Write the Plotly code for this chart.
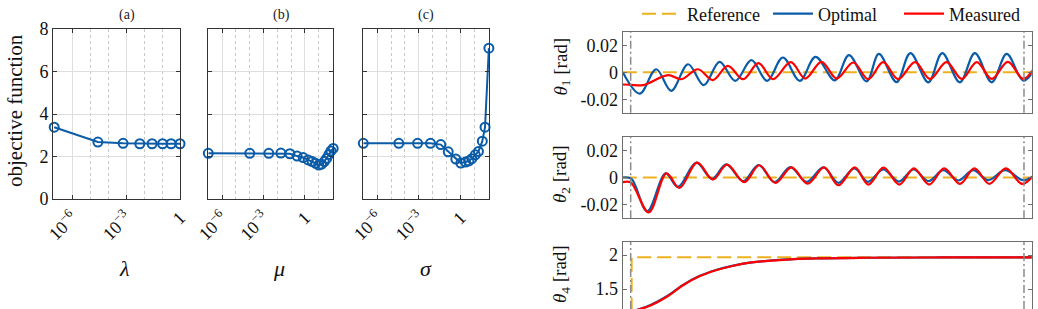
import plotly.graph_objects as go

# ---------------- left panels: objective function vs parameter ----------------
lam = [1e-7, 2.7e-5, 6.8e-4, 5.8e-3, 2.8e-2, 1.07e-1, 3.2e-1, 1.0]
obj_lam = [3.38, 2.68, 2.62, 2.60, 2.60, 2.60, 2.60, 2.60]

mu = [1e-7, 1.0e-4, 2.4e-3, 1.8e-2, 8.1e-2, 0.27, 0.74, 1.7, 3.3, 5.9,
      10, 16, 25, 37, 54, 76, 110]
obj_mu = [2.15, 2.15, 2.15, 2.16, 2.13, 2.02, 1.95, 1.84, 1.76, 1.68,
          1.60, 1.64, 1.76, 1.91, 2.10, 2.26, 2.38]

sigma = [1e-7, 3.6e-5, 8.1e-4, 6.9e-3, 3.8e-2, 0.13, 0.46, 1.05, 2.3, 4.0,
         6.5, 11.5, 19.5, 37, 58, 110]
obj_sigma = [2.62, 2.62, 2.62, 2.62, 2.56, 2.22, 1.88, 1.69, 1.74, 1.79,
             1.90, 2.08, 2.24, 2.72, 3.38, 7.10]

log_tickvals = [1e-6, 1e-3, 1]
log_ticktext = ["10<sup>\u22126</sup>", "10<sup>\u22123</sup>", "1"]
obj_ticks = [0, 2, 4, 6, 8]
panel_titles = ["(a)", "(b)", "(c)"]
param_names = ["<i>\u03bb</i>", "<i>\u03bc</i>", "<i>\u03c3</i>"]

# ---------------- right panels: joint trajectories ----------------
# theta1 [rad]
t1_opt = [-0.2, 0.23, 0.65, 1.03, 1.46, 1.86, 2.26, 2.66, 3.07, 3.47, 3.87, 4.30, 4.70,
          5.19, 5.55, 6.00, 6.31, 6.76, 7.11, 7.57, 7.92, 8.37, 8.75, 9.18, 9.56, 9.98, 10.26]
th1_opt = [0.0, -0.0158, 0.0022, -0.0138, 0.0059, -0.0096, 0.0077, -0.0064, 0.0089, -0.0064,
           0.0109, -0.0064, 0.0114, -0.0060, 0.0126, -0.0068, 0.0135, -0.0073, 0.0141, -0.0075,
           0.0142, -0.0075, 0.0142, -0.0075, 0.0136, -0.0062, 0.0015]
t1_meas = [-0.2, 0.0, 0.31, 0.95, 1.29, 1.71, 2.09, 2.47, 2.86, 3.25, 3.62, 4.07, 4.44, 4.85,
           5.24, 5.66, 6.04, 6.42, 6.80, 7.23, 7.61, 8.03, 8.42, 8.80, 9.18, 9.59, 9.98, 10.26]
th1_meas = [-0.0091, -0.0093, -0.0096, -0.0022, -0.0052, 0.0022, -0.0059, 0.0047, -0.0052,
            0.0067, -0.0052, 0.0074, -0.0047, 0.0077, -0.0047, 0.0072, -0.0052, 0.0074,
            -0.0052, 0.0075, -0.0050, 0.0075, -0.0050, 0.0075, -0.0050, 0.0077, -0.0050, 0.0032]

# theta2 [rad]
t2_opt = [-0.2, 0.02, 0.42, 0.89, 1.20, 1.67, 2.07, 2.43, 2.86, 3.25, 3.66, 4.06, 4.47, 4.90,
          5.28, 5.69, 6.03, 6.42, 6.82, 7.19, 7.57, 7.95, 8.33, 8.71, 9.09, 9.52, 9.98, 10.26]
th2_opt = [0.0, -0.0010, -0.0249, 0.0030, -0.0069, 0.0109, -0.0010, 0.0096, -0.0027, 0.0092,
           -0.0034, 0.0077, -0.0032, 0.0074, -0.0039, 0.0067, -0.0032, 0.0059, -0.0030, 0.0059,
           -0.0027, 0.0054, -0.0022, 0.0054, -0.0020, 0.0054, -0.0020, 0.0015]
t2_meas = [-0.2, 0.0, 0.46, 0.91, 1.24, 1.69, 2.09, 2.45, 2.89, 3.27, 3.68, 4.09, 4.50, 4.92,
           5.28, 5.70, 6.04, 6.43, 6.83, 7.20, 7.59, 7.97, 8.37, 8.74, 9.12, 9.54, 9.95, 10.26]
th2_meas = [-0.0034, -0.0036, -0.0256, 0.0030, -0.0077, 0.0109, -0.0015, 0.0094, -0.0034, 0.0090,
            -0.0040, 0.0074, -0.0045, 0.0074, -0.0057, 0.0074, -0.0052, 0.0072, -0.0052, 0.0067,
            -0.0052, 0.0067, -0.0047, 0.0067, -0.0047, 0.0067, -0.0047, 0.0022]

# theta4 [rad]
t4 = [-0.2, 0.0, 0.2, 0.49, 0.92, 1.34, 1.76, 2.19, 2.61, 3.03, 3.88, 4.73, 6.0, 8.0, 10.26]
th4_opt = [1.152, 1.162, 1.200, 1.260, 1.393, 1.564, 1.694, 1.783, 1.845, 1.888, 1.931,
           1.951, 1.960, 1.964, 1.966]
th4_meas = [1.150, 1.160, 1.197, 1.254, 1.387, 1.559, 1.690, 1.780, 1.843, 1.887, 1.930,
            1.950, 1.960, 1.964, 1.966]

# reference trajectories
t_ref = [-0.2, 10.26]
ref_zero = [0.0, 0.0]
t_ref4 = [-0.2, 0.025, 0.025, 10.26]
ref4 = [1.0, 1.0, 1.966, 1.966]

phase_bounds = [0.0, 10.0]

theta_ticks12 = [-0.02, 0, 0.02]
theta_ticktext12 = ["-0.02", "0", "0.02"]
theta_ticks4 = [1.5, 2]
theta_labels = ["<i>\u03b8</i><sub>1</sub> [rad]", "<i>\u03b8</i><sub>2</sub> [rad]",
                "<i>\u03b8</i><sub>4</sub> [rad]"]

# ---------------- styling ----------------
W, H = 1038, 309
FONT = "Liberation Serif, DejaVu Serif, serif"
BLUE = "#0b5ca8"
RED = "#ff0000"
ORANGE = "#edb120"
GRAY = "#8a8a8a"


def px_x(p):
    return p / W


def px_y(p):
    return 1 - p / H


fig = go.Figure()

# left panels
left_dom_x = [(53.3, 180.0), (208.3, 333.3), (363.3, 489.0)]
left_ranges = [[-7.05, 0], [-7.0, 2.05], [-7.0, 2.05]]
left_data = [(lam, obj_lam), (mu, obj_mu), (sigma, obj_sigma)]
minor_vals = [1e-7, 1e-5, 1e-4, 1e-2, 1e-1, 10, 100]

for i, (xs, ys) in enumerate(left_data):
    ax = "" if i == 0 else str(i + 1)
    fig.add_trace(go.Scatter(
        x=xs, y=ys, xaxis="x" + ax, yaxis="y" + ax, mode="lines+markers",
        line=dict(color=BLUE, width=2),
        marker=dict(symbol="circle-open", size=9, color=BLUE, line=dict(width=2, color=BLUE)),
        cliponaxis=False, showlegend=False))
    x0, x1 = left_dom_x[i]
    fig.layout["xaxis" + ax] = dict(
        domain=[px_x(x0), px_x(x1)], anchor="y" + ax, type="log", range=left_ranges[i],
        tickmode="array", tickvals=log_tickvals, ticktext=log_ticktext, tickangle=-45,
        tickfont=dict(family=FONT, size=18, color="#111"),
        showline=True, linecolor="#333", linewidth=1.2, mirror="ticks",
        ticks="inside", ticklen=4, tickcolor="#333",
        showgrid=True, gridcolor="#dedede", gridwidth=1, zeroline=False,
        minor=dict(tickmode="array", tickvals=minor_vals, showgrid=True, griddash="dot",
                   gridcolor="#c8c8c8", gridwidth=1, ticks=""))
    fig.layout["yaxis" + ax] = dict(
        domain=[px_y(199), px_y(29)], anchor="x" + ax, range=[0, 8],
        tickmode="array", tickvals=obj_ticks, showticklabels=(i == 0),
        tickfont=dict(family=FONT, size=18, color="#111"),
        showline=True, linecolor="#333", linewidth=1.2, mirror="ticks",
        ticks="inside", ticklen=4, tickcolor="#333",
        showgrid=True, gridcolor="#dedede", zeroline=False)
    fig.add_annotation(text=panel_titles[i], xref="paper", yref="paper",
                       x=px_x((x0 + x1) / 2), y=px_y(15), yanchor="middle", showarrow=False,
                       font=dict(family=FONT, size=14, color="#222"))
    fig.add_annotation(text=param_names[i], xref="paper", yref="paper",
                       x=px_x((x0 + x1) / 2), y=px_y(268), yanchor="middle", showarrow=False,
                       font=dict(family=FONT, size=22, color="#111"))

fig.add_annotation(text="objective function", xref="paper", yref="paper",
                   x=px_x(15), y=px_y(111), xanchor="center", yanchor="middle",
                   textangle=-90, showarrow=False,
                   font=dict(family=FONT, size=21, color="#111"))

# right panels
right_dom_y = [(31.7, 112.7), (136.7, 218.3), (241.7, 309.0)]
right_ranges = [[-0.03, 0.03], [-0.03, 0.03], [1.206, 2.196]]
series = [
    ((t_ref, ref_zero), (t1_opt, th1_opt), (t1_meas, th1_meas)),
    ((t_ref, ref_zero), (t2_opt, th2_opt), (t2_meas, th2_meas)),
    ((t_ref4, ref4), (t4, th4_opt), (t4, th4_meas)),
]
label_y = [66.5, 174.0, 274.0]

for j in range(3):
    k = str(j + 4)
    (tr, vr), (to, vo), (tm, vm) = series[j]
    fig.add_trace(go.Scatter(x=tr, y=vr, xaxis="x" + k, yaxis="y" + k, mode="lines",
                             name="Reference", legendgroup="ref", showlegend=(j == 0),
                             line=dict(color=ORANGE, width=2, dash="14px,6px")))
    fig.add_trace(go.Scatter(x=to, y=vo, xaxis="x" + k, yaxis="y" + k, mode="lines",
                             name="Optimal", legendgroup="opt", showlegend=(j == 0),
                             line=dict(color=BLUE, width=2.2, shape="spline")))
    fig.add_trace(go.Scatter(x=tm, y=vm, xaxis="x" + k, yaxis="y" + k, mode="lines",
                             name="Measured", legendgroup="meas", showlegend=(j == 0),
                             line=dict(color=RED, width=2.2, shape="spline")))
    y0, y1 = right_dom_y[j]
    fig.layout["xaxis" + k] = dict(
        domain=[px_x(622.7), px_x(1031.7)], anchor="y" + k, range=[-0.203, 10.196],
        showticklabels=False, ticks="", showgrid=False, zeroline=False,
        showline=True, linecolor="#6e6e6e", linewidth=1.2, mirror=True)
    if j < 2:
        ytv, ytt = theta_ticks12, theta_ticktext12
    else:
        ytv, ytt = theta_ticks4, ["1.5", "2"]
    fig.layout["yaxis" + k] = dict(
        domain=[px_y(y1), px_y(y0)], anchor="x" + k, range=right_ranges[j],
        tickmode="array", tickvals=ytv, ticktext=ytt,
        tickfont=dict(family=FONT, size=18, color="#111"),
        showline=True, linecolor="#6e6e6e", linewidth=1.2, mirror="ticks",
        ticks="inside", ticklen=4, tickcolor="#6e6e6e",
        showgrid=False, zeroline=False)
    for b in phase_bounds:
        fig.add_shape(type="line", xref="x" + k, yref="y" + k + " domain",
                      x0=b, x1=b, y0=0, y1=1,
                      line=dict(color=GRAY, width=1.5, dash="8px,3px,2px,3px"))
    fig.add_annotation(text=theta_labels[j], xref="paper", yref="paper",
                       x=px_x(561), y=px_y(label_y[j]), xanchor="center", yanchor="middle",
                       textangle=-90, showarrow=False,
                       font=dict(family=FONT, size=19, color="#111"))

fig.update_layout(
    width=W, height=H, margin=dict(l=0, r=0, t=0, b=0, pad=0, autoexpand=False),
    paper_bgcolor="white", plot_bgcolor="white",
    font=dict(family=FONT, size=18, color="#111"),
    legend=dict(orientation="h", x=px_x(637), y=px_y(14), xanchor="left", yanchor="middle",
                font=dict(family=FONT, size=18, color="#111"),
                bgcolor="rgba(0,0,0,0)", itemwidth=40, tracegroupgap=0,
                entrywidth=76, entrywidthmode="pixels",
                traceorder="normal"),
)

fig.write_html(
    "out.html",
    config={"displayModeBar": False, "responsive": False},
    post_script="document.body.style.margin='0';document.body.style.overflow='hidden';",
)
